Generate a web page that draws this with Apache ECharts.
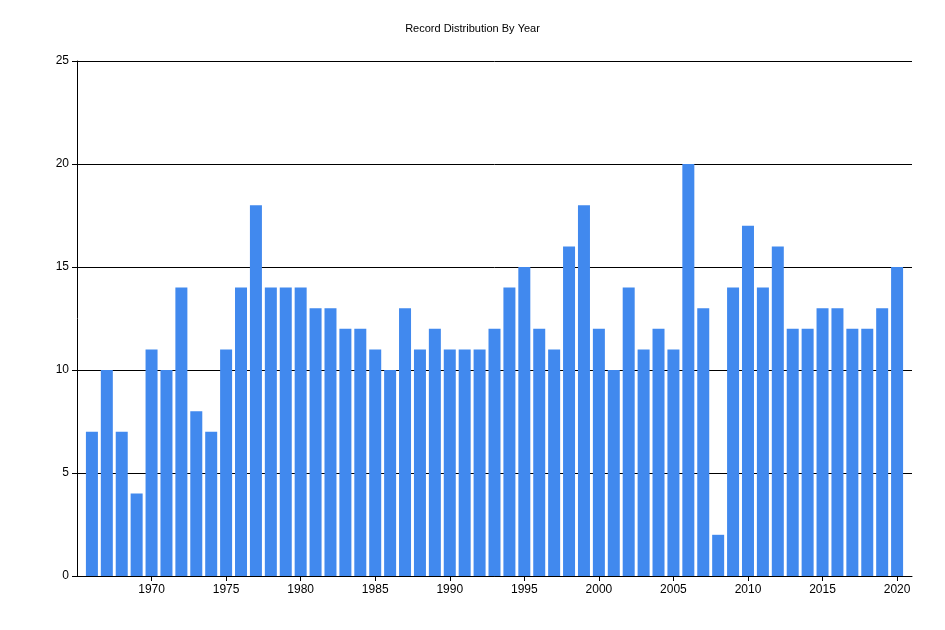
<!DOCTYPE html>
<html><head><meta charset="utf-8">
<script src="https://cdn.jsdelivr.net/npm/echarts@6/dist/echarts.min.js"></script>
<style>html,body{margin:0;background:#fff}#c{width:945px;height:630px}</style>
</head><body><div id="c"></div>
<script>
var years = [];
for (var y = 1966; y <= 2020; y++) years.push(y);
var counts = [7,10,7,4,11,10,14,8,7,11,14,18,14,14,14,13,13,12,12,11,10,13,11,12,11,11,11,12,14,15,12,11,16,18,12,10,14,11,12,11,20,13,2,14,17,14,16,12,12,13,13,12,12,13,15];

var chart = echarts.init(document.getElementById("c"));
chart.setOption({
  animation: false,
  title: { text: "Record Distribution By Year", left: "center", top: 18,
    textStyle: { fontSize: 11, fontWeight: "normal", color: "#000", fontFamily: "Liberation Sans" } },
  grid: { left: 77, right: 33, top: 61, bottom: 54 },
  xAxis: {
    type: "value", min: 1965, max: 2021, interval: 5,
    axisLine: { lineStyle: { color: "#000" } },
    axisTick: { show: true, lineStyle: { color: "#000" } },
    splitLine: { show: false },
    axisLabel: { color: "#000", fontSize: 12, showMinLabel: false, showMaxLabel: false,
      formatter: function (v) { return v === 1965 ? "" : v; } }
  },
  yAxis: {
    type: "value", min: 0, max: 25, interval: 5,
    axisLine: { show: true, lineStyle: { color: "#000" } },
    axisTick: { show: true, lineStyle: { color: "#000" } },
    splitLine: { lineStyle: { color: "#000" } },
    axisLabel: { color: "#000", fontSize: 12 }
  },
  series: [{
    type: "bar", barWidth: 12,
    itemStyle: { color: "#4189ee" },
    data: years.map(function (y, i) { return [y, counts[i]]; })
  }]
});
</script></body></html>
